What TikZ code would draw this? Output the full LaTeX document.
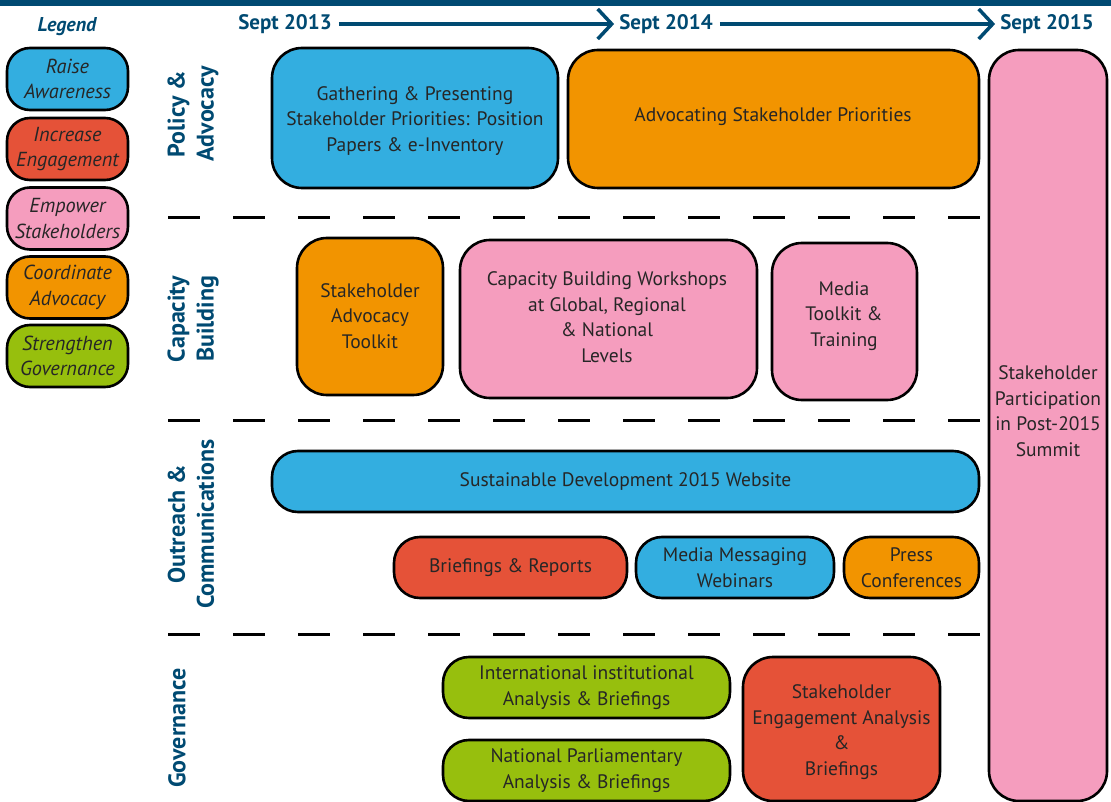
\documentclass[tikz,border=0pt]{standalone}
\usepackage{fontspec}
\setmainfont{PT Sans}
\usetikzlibrary{arrows.meta}
\definecolor{navy}{HTML}{004A72}
\definecolor{cblue}{HTML}{33AEE0}
\definecolor{cred}{HTML}{E55238}
\definecolor{cpink}{HTML}{F59DBE}
\definecolor{corange}{HTML}{F29400}
\definecolor{cgreen}{HTML}{97BF0D}
\definecolor{ctext}{HTML}{262626}
\begin{document}
\begin{tikzpicture}[x=1pt,y=-1pt,
  box/.style={draw=black, line width=2.6pt, rounded corners=26pt, inner sep=0pt, align=center, text=ctext, font=\fontsize{19.5}{25.5}\selectfont},
  txt/.style={inner sep=0pt, align=center, text=ctext, font=\fontsize{19.5}{25.5}\selectfont},
  legbox/.style={draw=black, line width=2.6pt, rounded corners=23pt, inner sep=0pt, align=center, text=ctext, minimum width=121pt, minimum height=62pt, font=\fontsize{20.3}{25.5}\selectfont\itshape},
  sect/.style={rotate=90, inner sep=0pt, align=center, text=navy, font=\fontsize{24}{29}\selectfont\bfseries},
  date/.style={inner sep=0pt, text=navy, font=\fontsize{21}{25}\selectfont\bfseries},
  tl/.style={draw=navy, line width=3.5pt, -{Straight Barb[length=14pt,width=30pt]}, shorten <=7pt, shorten >=5pt},
  sep/.style={draw=black, line width=3pt, dash pattern=on 32pt off 33pt}
]
\useasboundingbox (0,0) rectangle (1111,802);
\fill[navy] (0,0) rectangle (1111,6);

% timeline
\node[date] (s13) at (285,24) {Sept 2013};
\node[date] (s14) at (666,24) {Sept 2014};
\node[date] (s15) at (1047,24) {Sept 2015};
\draw[tl] (s13) -- (s14);
\draw[tl] (s14) -- (s15);

% legend
\node[inner sep=0pt, text=navy, font=\fontsize{20}{24}\selectfont\bfseries\itshape] (leg) at (67,27) {Legend};
\node[legbox, fill=cblue] (l1) at (67.5,79) {Raise\\Awareness};
\node[legbox, fill=cred] (l2) at (67.5,149) {Increase\\Engagement};
\node[legbox, fill=cpink] (l3) at (67.5,218.5) {Empower\\Stakeholders};
\node[legbox, fill=corange] (l4) at (67.5,287.5) {Coordinate\\Advocacy};
\node[legbox, fill=cgreen] (l5) at (67.5,356) {Strengthen\\Governance};

% section labels
\node[sect] (p1) at (193,114) {Policy \&\\Advocacy};
\node[sect] (p2) at (193,319) {Capacity\\Building};
\node[sect] (p3) at (191,524) {Outreach \&\\Communications};
\node[sect] (p4) at (177,728) {Governance};

% separators
\coordinate (d1a) at (168,218); \coordinate (d1b) at (990,218);
\coordinate (d2a) at (168,420); \coordinate (d2b) at (990,420);
\coordinate (d3a) at (168,634); \coordinate (d3b) at (990,634);
\draw[sep] (d1a) -- (d1b);
\draw[sep] (d2a) -- (d2b);
\draw[sep] (d3a) -- (d3b);

% policy & advocacy
\node[box, fill=cblue, minimum width=286pt, minimum height=140pt, rounded corners=30pt] (gather) at (415,118) {};
\node[txt] (gathert) at (415,121) {Gathering \& Presenting\\Stakeholder Priorities: Position\\Papers \& e-Inventory};
\node[box, fill=corange, minimum width=411pt, minimum height=138pt, rounded corners=30pt] (advoc) at (773.5,119) {};
\node[txt] (advoct) at (773,117) {Advocating Stakeholder Priorities};

% summit column
\node[box, fill=cpink, minimum width=118pt, minimum height=751pt, rounded corners=30pt] (summit) at (1048,425.5) {};
\node[txt] (summitt) at (1048,411) {Stakeholder\\Participation\\in Post-2015\\Summit};

% capacity building
\node[box, fill=corange, minimum width=146pt, minimum height=157pt, rounded corners=30pt] (tool) at (370,316.5) {};
\node[txt] (toolt) at (370,316) {Stakeholder\\Advocacy\\Toolkit};
\node[box, fill=cpink, minimum width=297pt, minimum height=158pt, rounded corners=30pt] (work) at (608.5,319) {};
\node[txt] (workt) at (607,317) {Capacity Building Workshops\\at Global, Regional\\\& National\\Levels};
\node[box, fill=cpink, minimum width=145pt, minimum height=157pt, rounded corners=30pt] (media) at (844.5,321.5) {};
\node[txt] (mediat) at (844,316) {Media\\Toolkit \&\\Training};

% outreach
\node[box, fill=cblue, minimum width=707pt, minimum height=61pt] (web) at (625.5,481.5) {Sustainable Development 2015 Website};
\node[box, fill=cred, minimum width=233pt, minimum height=61pt] (brief) at (510.5,567.5) {Briefings \& Reports};
\node[box, fill=cblue, minimum width=198pt, minimum height=61pt] (msg) at (735,567.5) {Media Messaging\\Webinars};
\node[box, fill=corange, minimum width=135pt, minimum height=61pt] (press) at (911.5,567.5) {Press\\Conferences};

% governance
\node[box, fill=cgreen, minimum width=287pt, minimum height=61pt] (intl) at (586.5,687.5) {International institutional\\Analysis \& Briefings};
\node[box, fill=cgreen, minimum width=287pt, minimum height=61pt] (nat) at (586.5,770.5) {National Parliamentary\\Analysis \& Briefings};
\node[box, fill=cred, minimum width=197pt, minimum height=144pt, rounded corners=30pt] (eng) at (841.5,729) {};
\node[txt] (engt) at (841.5,732) {Stakeholder\\Engagement Analysis\\\&\\Briefings};
\end{tikzpicture}
\end{document}
